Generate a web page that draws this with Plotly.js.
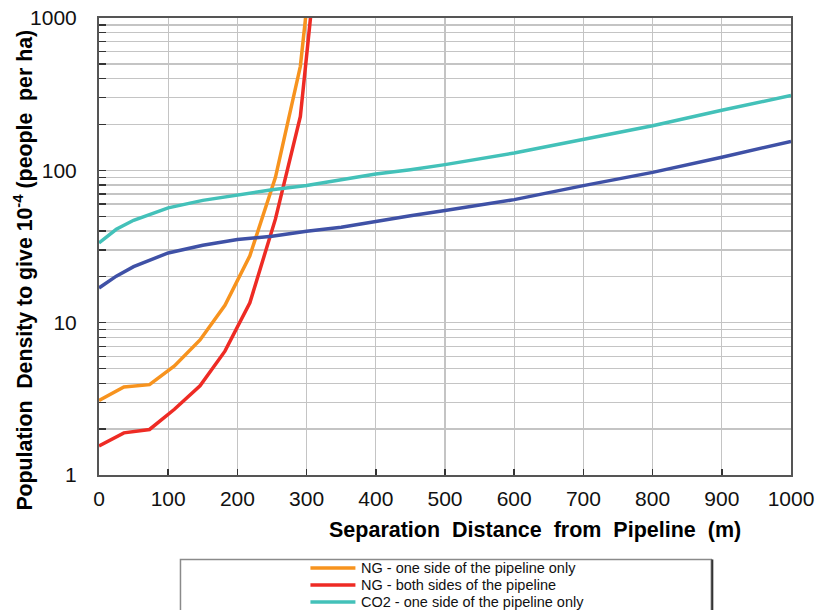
<!DOCTYPE html>
<html>
<head>
<meta charset="utf-8">
<script src="https://cdn.plot.ly/plotly-3.0.1.min.js"></script>
<style>
  html, body { margin: 0; padding: 0; background: #ffffff; }
  #chart { width: 820px; height: 610px; }
</style>
</head>
<body>
<div id="chart"></div>
<script>
// Natural gas pipeline: separation distance (m) and tolerable population density
const ngDistance = [0, 36, 73, 109, 146, 182, 218, 255, 291, 327];
const ngOneSide = [3.08, 3.78, 3.92, 5.2, 7.7, 13.0, 27.5, 90, 482, 16000];
const ngBothSides = [1.55, 1.89, 1.99, 2.7, 3.85, 6.5, 13.5, 48, 226, 8800];

// CO2 pipeline
const co2Distance = [0, 25, 50, 100, 150, 200, 250, 300, 350, 400, 450, 500, 600, 700, 800, 900, 1000];
const co2OneSide = [33.4, 41, 47, 56.7, 63.5, 69, 74.5, 79.4, 86.5, 94.5, 101, 109, 130, 159, 196, 248, 310];
const co2BothSides = [16.9, 20.2, 23.3, 28.7, 32.2, 35.1, 36.9, 39.8, 42.3, 46.3, 50.4, 54.5, 64.2, 79.4, 97, 122, 155];

const seriesNames = [
  'NG - one side of the pipeline only',
  'NG - both sides of the pipeline',
  'CO2 - one side of the pipeline only',
  'CO2 - both sides of the pipeline'
];
const seriesColors = ['#F7931E', '#EE2B24', '#43C1B9', '#3F51A6'];

const xTickVals = [0, 100, 200, 300, 400, 500, 600, 700, 800, 900, 1000];
const yTickVals = [1, 10, 100, 1000];
const yTickText = ['1', '10', '100', '1000'];

const xTitle = 'Separation&nbsp; Distance&nbsp; from&nbsp; Pipeline&nbsp; (m)';
const yTitle = 'Population&nbsp; Density to give 10<sup>-4</sup> (people&nbsp; per ha)';

const series = [
  [ngDistance, ngOneSide],
  [ngDistance, ngBothSides],
  [co2Distance, co2OneSide],
  [co2Distance, co2BothSides]
];

const traces = series.map(function (s, i) {
  return {
    type: 'scatter',
    mode: 'lines',
    x: s[0],
    y: s[1],
    name: seriesNames[i],
    line: { color: seriesColors[i], width: 3.5 },
    hoverinfo: 'x+y+name'
  };
});

const W = 820, H = 610;
const M = { l: 98.5, r: 29.3, t: 18.3, b: 134.5 };
const plotW = W - M.l - M.r;
const plotH = H - M.t - M.b;
// helpers to place paper-referenced items by pixel position
function px(x) { return (x - M.l) / plotW; }
function py(y) { return (H - M.b - y) / plotH; }

const FONT = 'Liberation Sans, Arial, sans-serif';
const gridColor = '#c4c4c4';
const tickFont = { family: FONT, size: 21, color: '#111111' };

// Boxed key below the chart: a short coloured line and the series name per row
const key = { boxLeft: 180, boxRight: 711, boxTop: 560, sampleX0: 310, sampleX1: 355, textX: 359, firstRow: 568.5, rowStep: 17 };

const shapes = [
  {
    type: 'rect', xref: 'paper', yref: 'paper', layer: 'above',
    x0: px(key.boxLeft), x1: px(key.boxRight), y0: py(key.boxTop), y1: py(H + 60),
    line: { color: '#8a8a8a', width: 1.5 },
    fillcolor: 'rgba(0,0,0,0)'
  },
  {
    type: 'line', xref: 'paper', yref: 'paper', layer: 'above',
    x0: px(key.boxRight + 1), x1: px(key.boxRight + 1), y0: py(key.boxTop), y1: py(H + 60),
    line: { color: '#333333', width: 2 }
  }
];

const annotations = [
  {
    text: '<b>' + xTitle + '</b>',
    xref: 'paper', yref: 'paper',
    x: px(535), y: py(530.5),
    xanchor: 'center', yanchor: 'middle',
    showarrow: false,
    font: { family: FONT, size: 21.5, color: '#000000' }
  },
  {
    text: '<b>' + yTitle + '</b>',
    xref: 'paper', yref: 'paper',
    x: px(23), y: py(270.5),
    xanchor: 'center', yanchor: 'middle',
    textangle: -90,
    showarrow: false,
    font: { family: FONT, size: 21.3, color: '#000000' }
  }
];

seriesNames.forEach(function (name, i) {
  const rowY = key.firstRow + i * key.rowStep;
  shapes.push({
    type: 'line', xref: 'paper', yref: 'paper', layer: 'above',
    x0: px(key.sampleX0), x1: px(key.sampleX1), y0: py(rowY), y1: py(rowY),
    line: { color: seriesColors[i], width: 3.5 }
  });
  annotations.push({
    text: name,
    xref: 'paper', yref: 'paper',
    x: px(key.textX), y: py(rowY),
    xanchor: 'left', yanchor: 'middle',
    showarrow: false,
    font: { family: FONT, size: 14.5, color: '#111111' }
  });
});

const layout = {
  width: W,
  height: H,
  margin: { l: M.l, r: M.r, t: M.t, b: M.b, pad: 0, autoexpand: false },
  paper_bgcolor: '#ffffff',
  plot_bgcolor: '#ffffff',
  showlegend: false,
  xaxis: {
    range: [0, 1000],
    tickmode: 'array',
    tickvals: xTickVals,
    ticks: 'inside',
    ticklen: 6,
    tickwidth: 1.5,
    tickcolor: '#333333',
    tickfont: tickFont,
    ticklabelstandoff: 4,
    showgrid: true,
    gridcolor: gridColor,
    gridwidth: 1.3,
    showline: true,
    linecolor: '#555555',
    linewidth: 2,
    mirror: true,
    zeroline: false,
    fixedrange: true
  },
  yaxis: {
    type: 'log',
    range: [0, 3],
    tickmode: 'array',
    tickvals: yTickVals,
    ticktext: yTickText,
    ticks: 'inside',
    ticklen: 7,
    tickwidth: 1.5,
    tickcolor: '#333333',
    tickfont: tickFont,
    ticklabelstandoff: 16,
    showgrid: true,
    gridcolor: gridColor,
    gridwidth: 1.3,
    showline: true,
    linecolor: '#555555',
    linewidth: 2,
    mirror: true,
    zeroline: false,
    fixedrange: true,
    minor: {
      dtick: 'D1',
      ticks: 'inside',
      ticklen: 7,
      tickwidth: 1.3,
      tickcolor: '#333333',
      showgrid: true,
      gridcolor: gridColor,
      gridwidth: 1.3
    }
  },
  annotations: annotations,
  shapes: shapes
};

Plotly.newPlot('chart', traces, layout, { displayModeBar: false, staticPlot: true });
</script>
</body>
</html>
